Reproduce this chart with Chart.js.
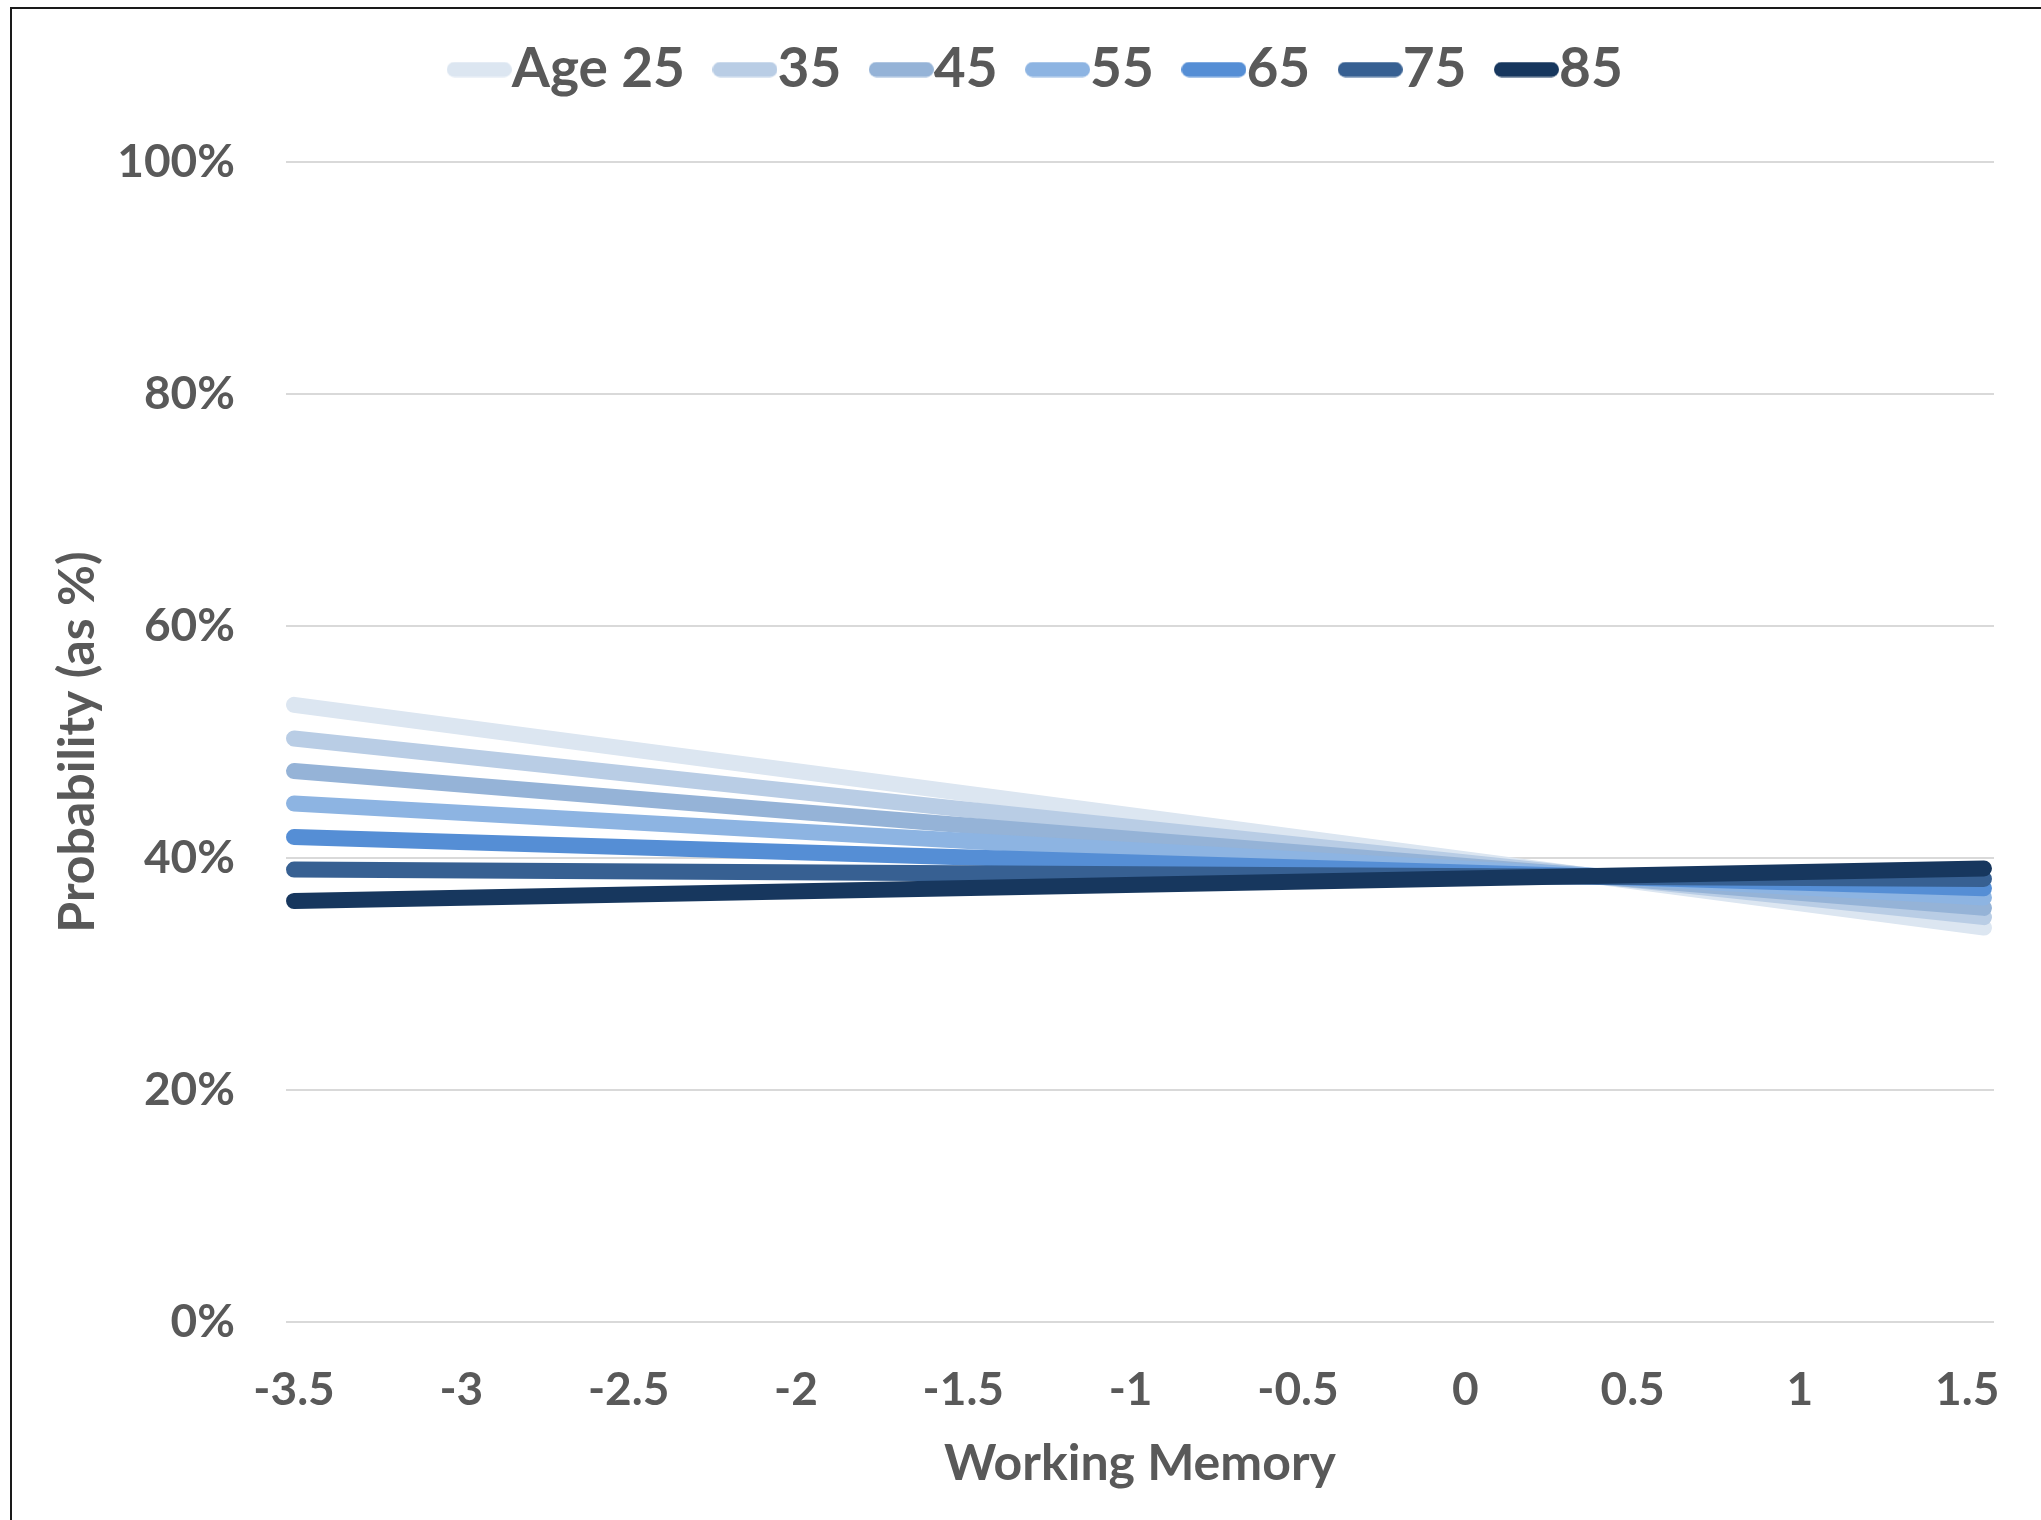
<!DOCTYPE html>
<html lang="en">
<head>
    <meta charset="UTF-8">
    <title>Working Memory by Age</title>
    <style>
        body { margin: 0; background: #fff; }
        #wrap { position: relative; width: 2041px; height: 1520px; }
        #frame {
            position: absolute; left: 10px; top: 7px; width: 2031px; height: 1513px;
            border-top: 2px solid #1a1a1a; border-left: 2px solid #1a1a1a;
            box-sizing: border-box; pointer-events: none;
        }
    </style>
</head>
<body>
    <div id="wrap">
        <canvas id="myChart" width="2041" height="1520"></canvas>
        <div id="frame"></div>
    </div>
<script src="https://cdn.jsdelivr.net/npm/chart.js"></script>
<script>
    // working memory values where each line starts and ends
    const wmX = [-3.5, 1.55];
    const xTicks = [-3.5, -3, -2.5, -2, -1.5, -1, -0.5, 0, 0.5, 1, 1.5];

    const ageLabels = ['Age 25', '35', '45', '55', '65', '75', '85'];
    const ageColors = ['#dce6f1', '#b9cde5', '#95b3d7', '#8db4e2', '#558ed5', '#376092', '#17375e'];

    // probability (%) at wmX[0] and wmX[1]
    const age25 = [53.2, 34.0];
    const age35 = [50.3, 34.9];
    const age45 = [47.5, 35.7];
    const age55 = [44.7, 36.6];
    const age65 = [41.8, 37.4];
    const age75 = [39.0, 38.2];
    const age85 = [36.3, 39.1];
    const series = [age25, age35, age45, age55, age65, age75, age85];

    const textColor = '#595959';
    const fontFamily = 'Lato';

    // little rounded line used as legend sample
    function sampleLine(color) {
        const c = document.createElement('canvas');
        c.width = 65;
        c.height = 16;
        const g = c.getContext('2d');
        g.strokeStyle = color;
        g.lineWidth = 15;
        g.lineCap = 'round';
        g.beginPath();
        g.moveTo(7.5, 8);
        g.lineTo(57.5, 8);
        g.stroke();
        return c;
    }

    const datasets = series.map((vals, i) => ({
        label: ageLabels[i],
        data: vals.map((v, j) => ({x: wmX[j], y: v})),
        borderColor: ageColors[i],
        backgroundColor: ageColors[i],
        borderWidth: 16,
        borderCapStyle: 'round',
        pointRadius: 0,
        tension: 0,
        order: series.length - 1 - i
    }));

    // force legend box height so the plot starts where it should,
    // and nudge the legend row a bit to the right like the original
    const legendBox = {
        id: 'legendBox',
        beforeLayout(chart) {
            const lg = chart.legend;
            if (lg && !lg._fixedH) {
                const fit = lg.fit;
                lg.fit = function () {
                    fit.call(this);
                    this.height = 175;
                };
                lg._fixedH = true;
            }
        },
        afterLayout(chart) {
            const lg = chart.legend;
            if (lg) {
                lg.left += 38;
                lg.right += 38;
            }
        }
    };

    const config = {
        type: 'line',
        data: { datasets },
        options: {
            responsive: false,
            animation: false,
            devicePixelRatio: 1,
            layout: { padding: { left: 20, right: 40, top: -13, bottom: 9 } },
            plugins: {
                legend: {
                    position: 'top',
                    labels: {
                        usePointStyle: true,
                        pointStyleWidth: 10,
                        padding: 55,
                        color: textColor,
                        font: { family: fontFamily, size: 55, weight: 'bold' },
                        generateLabels: chart => chart.data.datasets.map((ds, i) => ({
                            text: ds.label,
                            fillStyle: ds.borderColor,
                            strokeStyle: ds.borderColor,
                            lineWidth: 0,
                            pointStyle: sampleLine(ds.borderColor),
                            fontColor: textColor,
                            hidden: false,
                            datasetIndex: i
                        }))
                    }
                },
                tooltip: { enabled: false }
            },
            scales: {
                x: {
                    type: 'linear',
                    min: -3.524,
                    max: 1.58,
                    afterBuildTicks: s => { s.ticks = xTicks.map(v => ({ value: v })); },
                    afterFit: s => { s.height = 189; },
                    grid: { display: false, drawTicks: false },
                    border: { display: false },
                    ticks: {
                        padding: 41,
                        autoSkip: false,
                        maxRotation: 0,
                        color: textColor,
                        font: { family: fontFamily, size: 46, weight: 'bold' },
                        callback: v => String(v)
                    },
                    title: {
                        display: true,
                        text: 'Working Memory',
                        color: textColor,
                        padding: { top: 17, bottom: 17 },
                        font: { family: fontFamily, size: 50, weight: 'bold' }
                    }
                },
                y: {
                    min: 0,
                    max: 100,
                    afterFit: s => { s.width = 266; },
                    grid: { color: '#d9d9d9', lineWidth: 2, drawTicks: false },
                    border: { display: false },
                    ticks: {
                        stepSize: 20,
                        padding: 51,
                        color: textColor,
                        font: { family: fontFamily, size: 46, weight: 'bold' },
                        callback: v => v + '%'
                    },
                    title: {
                        display: true,
                        text: 'Probability (as %)',
                        color: textColor,
                        padding: { top: 28, bottom: 0 },
                        font: { family: fontFamily, size: 50, weight: 'bold' }
                    }
                }
            }
        },
        plugins: [legendBox]
    };

    var myChart = new Chart(document.getElementById('myChart'), config);
</script>
</body>
</html>
